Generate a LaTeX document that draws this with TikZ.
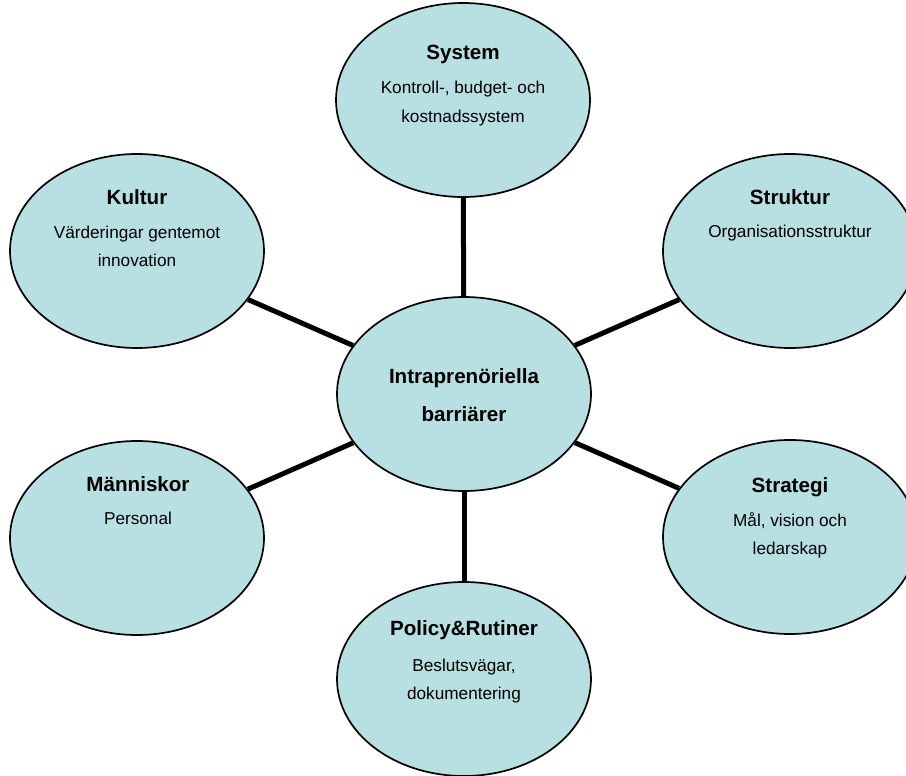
\documentclass[tikz,border=0pt]{standalone}
\usepackage{fontspec}
\setmainfont{Liberation Sans}
\usetikzlibrary{shapes.geometric}
\definecolor{bubblefill}{RGB}{184,223,226}
\tikzset{
  bubble/.style={ellipse, draw=black, line width=1.7pt, fill=bubblefill,
    minimum width=254pt, minimum height=194pt, inner sep=0pt},
  spoke/.style={line width=5pt, black},
  headtxt/.style={font=\fontsize{20.6}{24}\selectfont\bfseries, inner sep=0pt, anchor=base},
  bodytxt/.style={font=\fontsize{17.2}{20}\selectfont, inner sep=0pt, anchor=base},
}
\begin{document}
\begin{tikzpicture}[x=1pt, y=-1pt]
  \path[use as bounding box, clip] (0,0) rectangle (906,776);

  % bubbles
  \node[bubble] (mid)  at (464,394) {};
  \node[bubble] (sys)  at (463,100) {};
  \node[bubble] (kul)  at (137,251) {};
  \node[bubble] (str)  at (790,251) {};
  \node[bubble] (man)  at (137,538) {};
  \node[bubble] (stra) at (790,537) {};
  \node[bubble] (pol)  at (464,679) {};

  % spokes from the hub to every bubble
  \foreach \b in {sys,kul,str,man,stra,pol}
    \draw[spoke] (mid) -- (\b);

  % hub text
  \node[headtxt] (midA) at (464,383) {Intraprenöriella};
  \node[headtxt] (midB) at (464,421) {barriärer};

  % System
  \node[headtxt] (sysT) at (463,60) {System};
  \node[bodytxt] (sysA) at (463,94) {Kontroll-, budget- och};
  \node[bodytxt] (sysB) at (463,123) {kostnadssystem};

  % Kultur
  \node[headtxt] (kulT) at (137,204) {Kultur};
  \node[bodytxt] (kulA) at (137,238) {Värderingar gentemot};
  \node[bodytxt] (kulB) at (137,266) {innovation};

  % Struktur
  \node[headtxt] (strT) at (790,204) {Struktur};
  \node[bodytxt] (strA) at (790,237) {Organisationsstruktur};

  % Människor
  \node[headtxt] (manT) at (138,491) {Människor};
  \node[bodytxt] (manA) at (138,524) {Personal};

  % Strategi
  \node[headtxt] (straT) at (790,492) {Strategi};
  \node[bodytxt] (straA) at (790,526) {Mål, vision och};
  \node[bodytxt] (straB) at (790,554) {ledarskap};

  % Policy & Rutiner
  \node[headtxt] (polT) at (464,635) {Policy\&Rutiner};
  \node[bodytxt] (polA) at (464,671) {Beslutsvägar,};
  \node[bodytxt] (polB) at (464,699) {dokumentering};
\end{tikzpicture}
\end{document}
